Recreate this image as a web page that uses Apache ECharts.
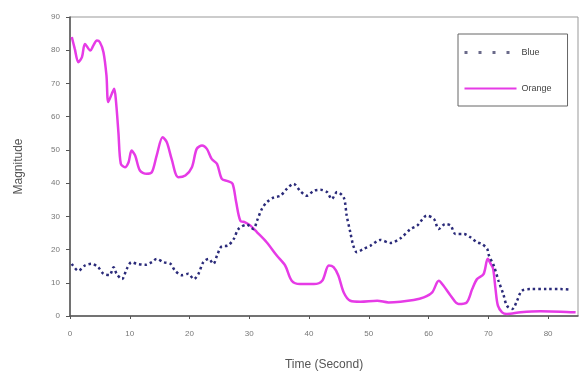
<!DOCTYPE html>
<html>
<head>
<meta charset="utf-8">
<script src="https://cdn.jsdelivr.net/npm/echarts@6/dist/echarts.min.js"></script>
<style>
  html, body { margin: 0; padding: 0; background: #fff; }
  #chart { width: 585px; height: 376px; }
</style>
</head>
<body>
<div id="chart"></div>
<script>
// values (time in seconds, magnitude)
const orangeTime = [0.3, 0.8, 1.4, 2.0, 2.5, 3.4, 3.9, 4.5, 5.0, 5.6, 6.1, 6.4, 7.0, 7.4, 7.7, 8.1, 8.5, 9.2, 9.8, 10.3, 10.9, 11.7, 12.8, 13.7, 14.5, 15.5, 16.2, 17.0, 18.1, 19.3, 20.4, 21.2, 22.1, 22.9, 23.7, 24.6, 25.4, 26.4, 27.2, 27.8, 28.5, 29.3, 30.2, 31.3, 32.9, 34.6, 36.0, 37.1, 38.5, 40.8, 42.2, 43.3, 44.1, 44.9, 45.8, 46.9, 48.6, 51.4, 53.3, 55.3, 57.5, 59.2, 60.6, 61.7, 62.5, 63.7, 65.0, 66.4, 67.3, 68.1, 69.2, 69.9, 70.4, 70.8, 71.2, 71.6, 72.3, 73.1, 75.4, 78.7, 82.1, 84.6];
const orangeValue = [84, 80.4, 76.4, 77.9, 81.9, 79.9, 81.4, 82.9, 82.4, 79.4, 72.4, 64.4, 66.9, 68.4, 64.5, 55.3, 45.8, 44.8, 46.3, 49.8, 48.3, 43.8, 42.8, 43.3, 48.3, 53.8, 52.3, 47.3, 41.8, 42.3, 44.8, 50.3, 51.3, 50.3, 47.3, 45.8, 41.3, 40.6, 39.8, 34.3, 28.7, 28.2, 27.2, 25.2, 22.2, 18.2, 15.2, 10.6, 9.6, 9.6, 10.6, 15.2, 14.7, 12.2, 7.1, 4.6, 4.3, 4.6, 4.1, 4.3, 4.8, 5.6, 7.1, 10.6, 9.1, 6.1, 3.6, 4.1, 8.1, 11.1, 12.6, 17.2, 15.7, 14.2, 8.1, 3.1, 1.1, 0.6, 1.1, 1.4, 1.3, 1.1];

const blueTime = [0.3, 1.4, 2.5, 3.6, 4.7, 5.6, 6.6, 7.3, 7.8, 8.7, 9.5, 10.3, 11.2, 12.6, 13.7, 14.5, 15.6, 16.8, 17.6, 18.7, 19.8, 20.7, 21.5, 22.3, 23.2, 24.0, 24.6, 25.4, 26.4, 27.4, 28.2, 29.6, 30.7, 31.3, 32.1, 32.9, 34.1, 35.2, 36.3, 37.4, 38.5, 39.6, 40.8, 41.9, 43.0, 43.8, 44.7, 45.8, 46.3, 46.9, 47.4, 48.0, 49.1, 50.3, 51.9, 53.6, 55.3, 57.0, 58.1, 59.7, 60.9, 61.7, 62.8, 63.7, 64.5, 65.9, 67.0, 68.1, 68.9, 69.8, 70.1, 70.9, 71.7, 72.5, 73.1, 74.0, 74.8, 75.6, 77.1, 79.8, 82.1, 83.8];
const blueValue = [15.7, 13.6, 15.2, 15.7, 14.7, 12.7, 12.3, 14.7, 12.7, 11.1, 14.2, 16.2, 15.7, 15.4, 16.2, 17.2, 16.2, 15.7, 13.6, 12.3, 12.7, 11.1, 12.7, 16.2, 17.2, 15.7, 18.2, 21.0, 21.2, 23.2, 26.2, 27.5, 26.2, 28.7, 32.2, 34.2, 35.7, 36.2, 38.3, 39.8, 37.7, 36.2, 37.7, 38.0, 37.3, 35.2, 37.3, 35.7, 30.2, 25.2, 21.2, 19.2, 20.2, 21.2, 22.9, 22.0, 23.4, 26.2, 27.2, 30.2, 29.2, 26.2, 27.7, 27.2, 24.7, 24.7, 23.7, 22.2, 21.7, 20.2, 18.2, 15.2, 10.6, 6.6, 3.1, 2.1, 4.6, 7.6, 8.1, 8.1, 8.1, 7.9];

const xTicks = [0, 10, 20, 30, 40, 50, 60, 70, 80];

const toPairs = (xs, ys) => xs.map((x, i) => [x, ys[i]]);

const chartDom = document.getElementById('chart');
const myChart = echarts.init(chartDom);

const axisLabelStyle = {
    fontFamily: 'Arial, "Liberation Sans", sans-serif',
    fontSize: 8,
    color: '#777'
};

const option = {
    animation: false,
    backgroundColor: '#fff',
    grid: {
        left: 70,
        top: 17,
        right: 7,
        bottom: 59,
        show: true,
        borderColor: '#999',
        borderWidth: 1
    },
    legend: {
        orient: 'vertical',
        left: 458,
        top: 34,
        padding: [14, 16, 13, 5],
        itemWidth: 52,
        itemHeight: 10,
        itemGap: 27,
        borderColor: '#666',
        borderWidth: 1,
        itemStyle: { opacity: 0 },
        textStyle: {
            fontFamily: 'Arial, "Liberation Sans", sans-serif',
            fontSize: 9,
            color: '#444'
        },
        data: [
            { name: 'Blue', lineStyle: { type: [3, 11], width: 3, color: '#6a6a8a' } },
            { name: 'Orange' }
        ]
    },
    xAxis: {
        type: 'value',
        min: 0,
        max: 85,
        interval: 10,
        name: 'Time (Second)',
        nameLocation: 'middle',
        nameGap: 43,
        nameTextStyle: {
            fontFamily: 'Arial, "Liberation Sans", sans-serif',
            fontSize: 12,
            color: '#555'
        },
        axisLine: { lineStyle: { color: '#555', width: 1.5 } },
        axisTick: { length: 3, lineStyle: { color: '#555' } },
        axisLabel: Object.assign({
            margin: 14,
            showMaxLabel: false,
            formatter: v => xTicks.includes(v) ? String(v) : ''
        }, axisLabelStyle),
        splitLine: { show: false }
    },
    yAxis: {
        type: 'value',
        min: 0,
        max: 90,
        interval: 10,
        name: 'Magnitude',
        nameLocation: 'middle',
        nameGap: 45,
        nameTextStyle: {
            fontFamily: 'Arial, "Liberation Sans", sans-serif',
            fontSize: 12,
            color: '#555'
        },
        axisLine: { show: true, lineStyle: { color: '#555', width: 1.5 } },
        axisTick: { show: true, length: 4, lineStyle: { color: '#555' } },
        axisLabel: Object.assign({ margin: 10 }, axisLabelStyle),
        splitLine: { show: false }
    },
    series: [
        {
            name: 'Blue',
            type: 'line',
            symbol: 'none',
            smooth: 0.3,
            data: toPairs(blueTime, blueValue),
            itemStyle: { color: '#2b2b7a' },
            lineStyle: {
                color: '#2b2b7a',
                width: 2.5,
                type: [2.5, 3]
            },
            z: 3
        },
        {
            name: 'Orange',
            type: 'line',
            symbol: 'none',
            smooth: 0.3,
            data: toPairs(orangeTime, orangeValue),
            itemStyle: { color: '#e63be6' },
            lineStyle: {
                color: '#e63be6',
                width: 2.5
            },
            z: 2
        }
    ]
};

option && myChart.setOption(option);
</script>
</body>
</html>
